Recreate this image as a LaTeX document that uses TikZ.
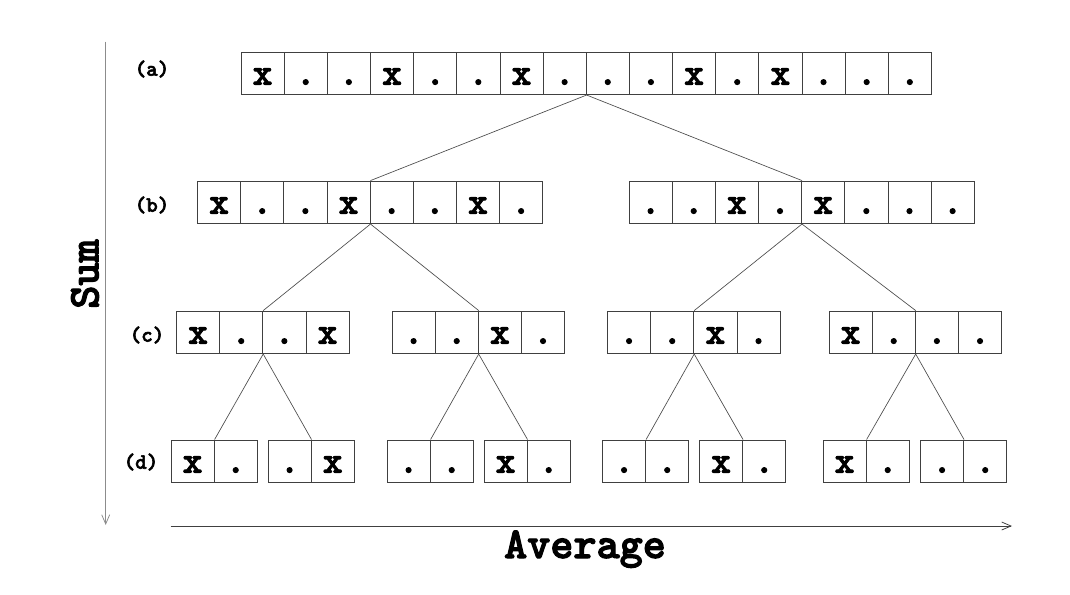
\documentclass[tikz,border=0pt]{standalone}
\usepackage{fontspec}
\usetikzlibrary{arrows.meta, positioning}
\newfontfamily\slabmono{lmmonolt10-bold.otf}[FakeBold=2.5]

\begin{document}
\begin{tikzpicture}[
        x=0.75pt, y=-0.75pt,
        cell/.style={rectangle, draw=black!75, line width=0.6pt, minimum width=32.36pt, minimum height=32pt, inner sep=0pt, text height=17pt, text depth=0pt, font=\slabmono\fontsize{28}{28}\selectfont},
        tag/.style={font=\slabmono\fontsize{16.5}{17}\selectfont},
        axislabel/.style={font=\slabmono\fontsize{33}{33}\selectfont},
        link/.style={draw=black!70, line width=0.5pt},
        arrow/.style={-{Straight Barb[length=7pt, width=6pt]}, line width=0.6pt}
        ]
        \useasboundingbox (0,0) rectangle (1070,594);

        \foreach \s [count=\i] in {x,.,.,x,.,.,x,.,.,.,x,.,x,.,.,.}
            \node (a\i) [cell] at ({241+(\i-0.5)*43.15},73.3) {\s};

        \foreach \s [count=\i] in {x,.,.,x,.,.,x,.}
            \node (b\i) [cell] at ({197.5+(\i-0.5)*43.15},202.3) {\s};
        \foreach \s [count=\i from 9] in {.,.,x,.,x,.,.,.}
            \node (b\i) [cell] at ({629+(\i-8.5)*43.15},202.3) {\s};

        \foreach \s [count=\i] in {x,.,.,x}
            \node (c\i) [cell] at ({176.5+(\i-0.5)*43.15},332.3) {\s};
        \foreach \s [count=\i from 5] in {.,.,x,.}
            \node (c\i) [cell] at ({392+(\i-4.5)*43.15},332.3) {\s};
        \foreach \s [count=\i from 9] in {.,.,x,.}
            \node (c\i) [cell] at ({607.5+(\i-8.5)*43.15},332.3) {\s};
        \foreach \s [count=\i from 13] in {x,.,.,.}
            \node (c\i) [cell] at ({829+(\i-12.5)*43.15},332.3) {\s};

        \foreach \s [count=\i] in {x,.}
            \node (d\i) [cell] at ({171+(\i-0.5)*43.15},461.3) {\s};
        \foreach \s [count=\i from 3] in {.,x}
            \node (d\i) [cell] at ({268+(\i-2.5)*43.15},461.3) {\s};
        \foreach \s [count=\i from 5] in {.,.}
            \node (d\i) [cell] at ({387+(\i-4.5)*43.15},461.3) {\s};
        \foreach \s [count=\i from 7] in {x,.}
            \node (d\i) [cell] at ({484+(\i-6.5)*43.15},461.3) {\s};
        \foreach \s [count=\i from 9] in {.,.}
            \node (d\i) [cell] at ({602.5+(\i-8.5)*43.15},461.3) {\s};
        \foreach \s [count=\i from 11] in {x,.}
            \node (d\i) [cell] at ({699.5+(\i-10.5)*43.15},461.3) {\s};
        \foreach \s [count=\i from 13] in {x,.}
            \node (d\i) [cell] at ({823+(\i-12.5)*43.15},461.3) {\s};
        \foreach \s [count=\i from 15] in {.,.}
            \node (d\i) [cell] at ({920.5+(\i-14.5)*43.15},461.3) {\s};

        \node (taga) [tag] at (152,69) {(a)};
        \node (tagb) [tag] at (152,205) {(b)};
        \node (tagc) [tag] at (147,335) {(c)};
        \node (tagd) [tag] at (141,462) {(d)};

        \node (sum) [axislabel, rotate=90] at (85,274) {Sum};
        \node (avg) [axislabel, anchor=base] at (585,558) {Average};

        \coordinate (sumtop) at (105.7,41.7);
        \coordinate (sumend) at (105.7,525);
        \coordinate (avgstart) at (170.7,526);
        \coordinate (avgend) at (1012,526);
        \draw [arrow, black!45] (sumtop) -- (sumend);
        \draw [arrow, black!75] (avgstart) -- (avgend);

        \draw [link] (a8.south east) -- (b4.north east);
        \draw [link] (a8.south east) -- (b12.north east);
        \draw [link] (b4.south east) -- (c2.north east);
        \draw [link] (b4.south east) -- (c6.north east);
        \draw [link] (b12.south east) -- (c10.north east);
        \draw [link] (b12.south east) -- (c14.north east);
        \draw [link] (c2.south east) -- (d1.north east);
        \draw [link] (c2.south east) -- (d3.north east);
        \draw [link] (c6.south east) -- (d5.north east);
        \draw [link] (c6.south east) -- (d7.north east);
        \draw [link] (c10.south east) -- (d9.north east);
        \draw [link] (c10.south east) -- (d11.north east);
        \draw [link] (c14.south east) -- (d13.north east);
        \draw [link] (c14.south east) -- (d15.north east);
    \end{tikzpicture}
\end{document}
